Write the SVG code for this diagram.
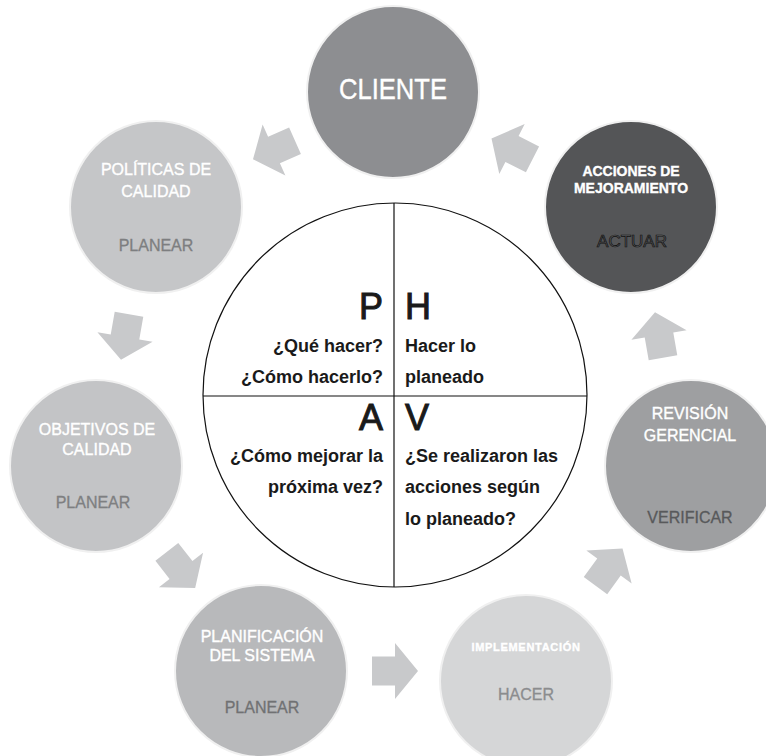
<svg xmlns="http://www.w3.org/2000/svg" xmlns:xlink="http://www.w3.org/1999/xlink" width="766" height="756" viewBox="0 0 766 756">
<defs>
<style>
.node{stroke:#f0f0f0;stroke-width:2}
.lbl{font-family:"Liberation Sans",Arial,sans-serif;fill:#ffffff;stroke:#ffffff;stroke-width:0.35;text-anchor:middle}
.sub{font-family:"Liberation Sans",Arial,sans-serif;text-anchor:middle;font-size:16px;stroke-width:0.3}
.q{font-family:"Liberation Sans",Arial,sans-serif;font-weight:bold;font-size:18px;fill:#1a1a1a}
.big{font-family:"Liberation Sans",Arial,sans-serif;font-size:36px;fill:#1a1a1a;stroke:#1a1a1a;stroke-width:1}
.arrow{fill:#c8c9cb}
</style>
<path id="arr" d="M-23,-14.5 L0,-14.5 L0,-28 L23,0 L0,28 L0,14.5 L-23,14.5 Z"/>
</defs>
<rect width="766" height="756" fill="#ffffff"/>

<g id="connectors" class="arrow">
<use xlink:href="#arr" transform="translate(274,150) rotate(156)"/>
<use xlink:href="#arr" transform="translate(512,149) rotate(207)"/>
<use xlink:href="#arr" transform="translate(125,337) rotate(100)"/>
<use xlink:href="#arr" transform="translate(181,570) rotate(52)"/>
<use xlink:href="#arr" transform="translate(395,671) rotate(0)"/>
<use xlink:href="#arr" transform="translate(609,567) rotate(-54)"/>
<use xlink:href="#arr" transform="translate(659,335) rotate(-100)"/>
</g>

<g id="cliente">
<circle class="node" cx="393" cy="92" r="86" fill="#8d8e91"/>
<text class="lbl" x="393" y="99" font-size="29" stroke-width="0.6" textLength="108" lengthAdjust="spacingAndGlyphs">CLIENTE</text>
</g>

<g id="politicas">
<circle class="node" cx="156" cy="207" r="86" fill="#c5c6c8"/>
<text class="lbl" x="156" y="175" font-size="16">POLÍTICAS DE</text>
<text class="lbl" x="156" y="197" font-size="16">CALIDAD</text>
<text class="sub" x="156" y="251" fill="#7d7e80" stroke="#7d7e80">PLANEAR</text>
</g>

<g id="acciones">
<circle class="node" cx="631" cy="207" r="86" fill="#545557"/>
<text class="lbl" x="631" y="176" font-size="14" font-weight="bold" stroke-width="0">ACCIONES DE</text>
<text class="lbl" x="631" y="193" font-size="14" font-weight="bold" stroke-width="0">MEJORAMIENTO</text>
<text x="632" y="247" font-family="Liberation Sans, Arial, sans-serif" font-size="17" text-anchor="middle" fill="#5a5b5d" stroke="#111111" stroke-width="0.7">ACTUAR</text>
</g>

<g id="objetivos">
<circle class="node" cx="96" cy="466" r="86" fill="#c3c4c6"/>
<text class="lbl" x="97" y="435" font-size="16">OBJETIVOS DE</text>
<text class="lbl" x="97" y="455" font-size="16">CALIDAD</text>
<text class="sub" x="93" y="508" fill="#7e7f81" stroke="#7e7f81">PLANEAR</text>
</g>

<g id="revision">
<circle class="node" cx="691" cy="466" r="86" fill="#9e9fa1"/>
<text class="lbl" x="690" y="419" font-size="16">REVISIÓN</text>
<text class="lbl" x="690" y="441" font-size="16">GERENCIAL</text>
<text class="sub" x="690" y="523" fill="#58595b" stroke="#58595b">VERIFICAR</text>
</g>

<g id="planificacion">
<circle class="node" cx="261" cy="671" r="86" fill="#b8b9bb"/>
<text class="lbl" x="262" y="642" font-size="16">PLANIFICACIÓN</text>
<text class="lbl" x="262" y="661" font-size="16">DEL SISTEMA</text>
<text class="sub" x="262" y="713" fill="#707173" stroke="#707173">PLANEAR</text>
</g>

<g id="implementacion">
<circle class="node" cx="526" cy="681" r="86" fill="#d5d6d7"/>
<text class="lbl" x="526" y="651" font-size="11" font-weight="bold" stroke-width="0" letter-spacing="0.7">IMPLEMENTACIÓN</text>
<text class="sub" x="526" y="700" fill="#8b8c8e" stroke="#8b8c8e">HACER</text>
</g>

<g id="phva">
<circle cx="395" cy="395" r="192" fill="#ffffff" stroke="#111111" stroke-width="1.2"/>
<line x1="394" y1="203" x2="394" y2="587" stroke="#111111" stroke-width="1.2"/>
<line x1="203" y1="396" x2="587" y2="396" stroke="#111111" stroke-width="1.2"/>
<text class="big" x="383" y="319" text-anchor="end">P</text>
<text class="big" x="405" y="319">H</text>
<text class="q" x="383" y="352" text-anchor="end">¿Qué hacer?</text>
<text class="q" x="383" y="383" text-anchor="end">¿Cómo hacerlo?</text>
<text class="q" x="405" y="352">Hacer lo</text>
<text class="q" x="405" y="383">planeado</text>
<text class="big" x="383" y="430" text-anchor="end">A</text>
<text class="big" x="405" y="430">V</text>
<text class="q" x="383" y="462" text-anchor="end">¿Cómo mejorar la</text>
<text class="q" x="383" y="493" text-anchor="end">próxima vez?</text>
<text class="q" x="405" y="462">¿Se realizaron las</text>
<text class="q" x="405" y="493">acciones según</text>
<text class="q" x="405" y="525">lo planeado?</text>
</g>
</svg>
